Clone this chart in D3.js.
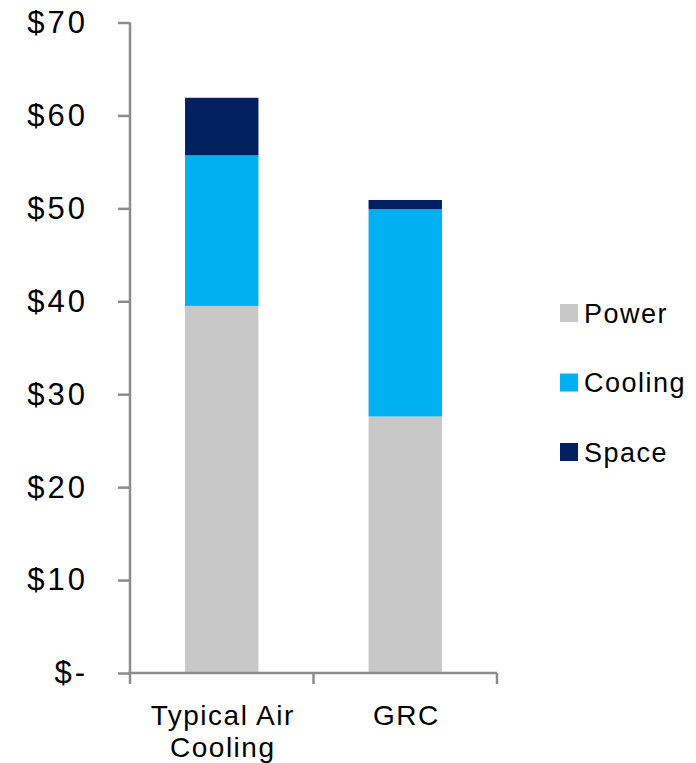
<!DOCTYPE html>
<html>
<head>
<meta charset="utf-8">
<script src="https://cdn.jsdelivr.net/npm/d3@7"></script>
<style>
  body { margin: 0; background: #fff; }
  text { font-family: "Liberation Sans", Arial, sans-serif; fill: #000; }
</style>
</head>
<body>
<div id="chart"></div>
<script>
var width = 696;
var height = 763;

// data
var categories = [['Typical Air', 'Cooling'], ['GRC']];
var seriesNames = ['Power', 'Cooling', 'Space'];
var power = [39.5, 27.6];
var cooling = [16.2, 22.3];
var space = [6.2, 1.0];
var yTicks = [0, 10, 20, 30, 40, 50, 60, 70];
var colors = ['#c8c8c8', '#00b0f0', '#002060'];

var margin = {left: 130, top: 22.5, right: 199, bottom: 90};

var svg = d3.select('#chart').append('svg')
  .attr('width', width)
  .attr('height', height);

var x = d3.scaleBand()
  .domain(d3.range(categories.length))
  .range([margin.left, width - margin.right])
  .paddingInner(0.6)
  .paddingOuter(0.3);

var y = d3.scaleLinear()
  .domain([0, 70])
  .range([height - margin.bottom, margin.top]);

var rows = categories.map(function(c, i) {
  return {i: i, Power: power[i], Cooling: cooling[i], Space: space[i]};
});
var stacked = d3.stack().keys(seriesNames)(rows);

svg.append('g')
  .selectAll('g')
  .data(stacked)
  .enter().append('g')
  .attr('fill', function(d, i) { return colors[i]; })
  .selectAll('rect')
  .data(function(d) { return d; })
  .enter().append('rect')
  .attr('x', function(d) { return x(d.data.i); })
  .attr('width', x.bandwidth())
  .attr('y', function(d) { return y(d[1]); })
  .attr('height', function(d) { return y(d[0]) - y(d[1]); });

// y axis
var yAxis = svg.append('g')
  .attr('transform', 'translate(' + margin.left + ',0)')
  .call(d3.axisLeft(y).tickValues(yTicks).tickSize(12).tickPadding(30)
    .tickFormat(function(d) { return d === 0 ? '$-' : '$' + d; }));
yAxis.select('.domain').remove();
yAxis.append('line')
  .attr('x1', 0).attr('x2', 0)
  .attr('y1', y(70)).attr('y2', y(0))
  .attr('stroke', '#8c8c8c').attr('stroke-width', 2.5);
yAxis.selectAll('.tick line').attr('stroke', '#8c8c8c').attr('stroke-width', 2.5);
yAxis.selectAll('.tick text')
  .attr('font-size', 31)
  .attr('letter-spacing', 3)
  .attr('fill', '#000')
  .style('font-family', '"Liberation Sans", Arial, sans-serif');

// x axis
var xRange = x.range();
var xAxis = svg.append('g');
xAxis.append('line')
  .attr('x1', xRange[0] - 2).attr('x2', xRange[1])
  .attr('y1', y(0)).attr('y2', y(0))
  .attr('stroke', '#8c8c8c').attr('stroke-width', 2.5);
xAxis.selectAll('.xtick')
  .data(d3.range(categories.length + 1))
  .enter().append('line')
  .attr('x1', function(d) { return xRange[0] + d * (xRange[1] - xRange[0]) / categories.length; })
  .attr('x2', function(d) { return xRange[0] + d * (xRange[1] - xRange[0]) / categories.length; })
  .attr('y1', y(0)).attr('y2', y(0) + 11)
  .attr('stroke', '#8c8c8c').attr('stroke-width', 2.5);

xAxis.selectAll('.xlabel')
  .data(categories)
  .enter().append('text')
  .attr('text-anchor', 'middle')
  .attr('font-size', 28)
  .attr('letter-spacing', 1.5)
  .attr('transform', function(d, i) {
    return 'translate(' + (x(i) + x.bandwidth() / 2 + 1) + ',' + (y(0) + 52) + ')';
  })
  .selectAll('tspan')
  .data(function(d) { return d; })
  .enter().append('tspan')
  .attr('x', 0)
  .attr('dy', function(d, i) { return i === 0 ? 0 : 32; })
  .text(function(d) { return d; });

// legend
var legend = svg.append('g')
  .attr('transform', 'translate(560,313)');
var item = legend.selectAll('g')
  .data(seriesNames)
  .enter().append('g')
  .attr('transform', function(d, i) { return 'translate(0,' + i * 69.5 + ')'; });
item.append('rect')
  .attr('x', 0).attr('y', -9)
  .attr('width', 18).attr('height', 18)
  .attr('fill', function(d, i) { return colors[i]; });
item.append('text')
  .attr('x', 24).attr('y', 9.5)
  .attr('font-size', 27)
  .attr('letter-spacing', 1.5)
  .text(function(d) { return d; });
</script>
</body>
</html>
